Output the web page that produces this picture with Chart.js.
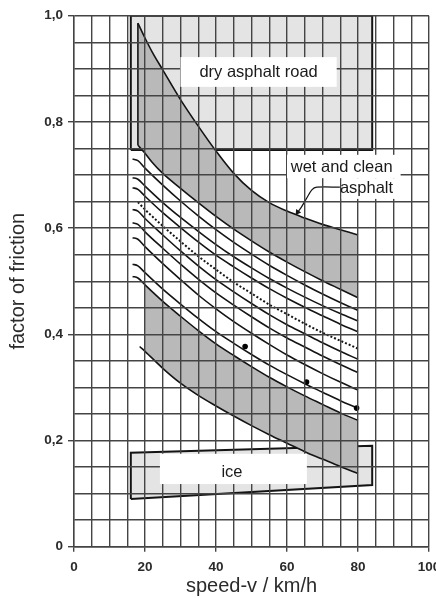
<!DOCTYPE html>
<html>
<head>
<meta charset="utf-8">
<script src="https://cdn.jsdelivr.net/npm/chart.js@4/dist/chart.umd.min.js"></script>
<style>
  html, body { margin: 0; padding: 0; background: #fff; }
  canvas { display: block; }
</style>
</head>
<body>
<canvas id="c" width="436" height="598"></canvas>
<script>
// friction factor vs speed (km/h)
const xTickLabels = ['0', '20', '40', '60', '80', '100'];
const yTickLabels = ['0', '0,2', '0,4', '0,6', '0,8', '1,0'];

// upper limit of wet and clean asphalt
const upperX = [18, 20, 22, 25, 30, 35, 40, 45, 50, 55, 60, 65, 70, 75, 80];
const upperY = [0.986, 0.958, 0.932, 0.898, 0.842, 0.792, 0.745, 0.703, 0.671, 0.648, 0.632, 0.619, 0.607, 0.597, 0.587];
// first curve of the family (lower edge of the upper grey band)
const bandTopX = [18, 20, 22, 25, 30, 35, 40, 45, 50, 55, 60, 65, 70, 75, 80];
const bandTopY = [0.756, 0.741, 0.724, 0.703, 0.675, 0.648, 0.622, 0.598, 0.576, 0.555, 0.536, 0.518, 0.501, 0.485, 0.469];
const leftEdgeX = [18, 18];
const leftEdgeY = [0.756, 0.986];

// family of measured curves
const famX = [16.5, 18, 20, 25, 30, 35, 40, 45, 50, 55, 60, 65, 70, 75, 80];
const curve2 = [0.730, 0.727, 0.713, 0.681, 0.651, 0.623, 0.597, 0.573, 0.551, 0.530, 0.511, 0.493, 0.476, 0.460, 0.445];
const curve3 = [0.695, 0.692, 0.679, 0.648, 0.620, 0.594, 0.569, 0.546, 0.525, 0.505, 0.487, 0.470, 0.454, 0.439, 0.425];
const curve4 = [0.676, 0.673, 0.660, 0.629, 0.601, 0.574, 0.549, 0.527, 0.506, 0.486, 0.468, 0.451, 0.435, 0.419, 0.405];
const curve5 = [0.635, 0.632, 0.618, 0.587, 0.557, 0.529, 0.503, 0.480, 0.458, 0.437, 0.418, 0.401, 0.384, 0.368, 0.353];
const curve6 = [0.610, 0.607, 0.593, 0.562, 0.532, 0.504, 0.478, 0.455, 0.433, 0.412, 0.393, 0.376, 0.359, 0.343, 0.328];
const curve7 = [0.582, 0.579, 0.565, 0.533, 0.503, 0.474, 0.448, 0.424, 0.402, 0.381, 0.361, 0.343, 0.326, 0.310, 0.295];
const curve8 = [0.532, 0.529, 0.516, 0.485, 0.457, 0.430, 0.405, 0.383, 0.362, 0.342, 0.324, 0.307, 0.291, 0.275, 0.261];
const curve9 = [0.509, 0.506, 0.493, 0.462, 0.434, 0.407, 0.382, 0.360, 0.339, 0.319, 0.301, 0.284, 0.268, 0.252, 0.238];
const dottedX = [18, 20, 25, 30, 35, 40, 45, 50, 55, 60, 65, 70, 75, 80];
const dottedY = [0.649, 0.635, 0.604, 0.575, 0.547, 0.522, 0.498, 0.477, 0.456, 0.438, 0.420, 0.403, 0.388, 0.373];

// lower limit
const lowerX = [18.5, 20, 25, 30, 35, 40, 45, 50, 55, 60, 65, 70, 75, 80];
const lowerY = [0.377, 0.368, 0.336, 0.308, 0.285, 0.265, 0.246, 0.228, 0.211, 0.195, 0.179, 0.165, 0.151, 0.138];

// measured points
const dotX = [48.2, 65.5, 79.6];
const dotY = [0.377, 0.310, 0.261];

// regions
const dryBoxX = [16, 16, 84, 84, 16];
const dryBoxY = [0.747, 1.0, 1.0, 0.747, 0.747];
const iceBoxX = [16, 16, 84, 84, 16];
const iceBoxY = [0.090, 0.177, 0.190, 0.116, 0.090];

// leader line of the "wet and clean asphalt" label
const leaderX = [74.9, 68.4, 67.0, 65.5, 64.1, 63.0];
const leaderY = [0.677, 0.677, 0.672, 0.656, 0.640, 0.630];

const pts = (xs, ys) => xs.map((x, i) => ({ x, y: ys[i] }));
const INK = '#141414';
const BAND = '#b9b9b9';
const LIGHT = '#e4e4e4';
const GRID = '#444';
const FONT = '"Liberation Sans", Arial, sans-serif';

function curve(data, extra) {
  return Object.assign({ data, showLine: true, borderColor: INK, borderWidth: 1.6, pointRadius: 0,
    cubicInterpolationMode: 'monotone', fill: false }, extra || {});
}

// white label boxes and texts drawn on top of the grid
const labels = {
  id: 'labels',
  afterDraw(chart) {
    const { ctx } = chart, xs = chart.scales.x, ys = chart.scales.y;
    const px = (v) => xs.getPixelForValue(v), py = (v) => ys.getPixelForValue(v);
    const box = (x0, x1, y0, y1) => {
      ctx.fillRect(px(x0), py(y1), px(x1) - px(x0), py(y0) - py(y1));
    };
    const text = (s, x, y) => ctx.fillText(s, px(x), py(y));
    ctx.save();
    ctx.fillStyle = '#fff';
    box(30, 74, 0.866, 0.922);
    box(24.2, 65.6, 0.118, 0.175);
    box(60, 92, 0.694, 0.738);
    box(75.4, 91, 0.655, 0.694);
    ctx.fillStyle = '#1a1a1a';
    ctx.font = '16.5px ' + FONT;
    ctx.textAlign = 'center';
    ctx.textBaseline = 'middle';
    text('dry asphalt road', 52, 0.893);
    text('ice', 44.5, 0.1407);
    text('wet and clean', 75.4, 0.714);
    text('asphalt', 82.4, 0.6755);
    ctx.restore();
  }
};

const isMajorX = (v) => Math.abs(v / 20 - Math.round(v / 20)) < 1e-6;
const isMajorY = (v) => Math.abs(v / 0.2 - Math.round(v / 0.2)) < 1e-6;

new Chart(document.getElementById('c'), {
  type: 'scatter',
  data: {
    datasets: [
      { data: pts(dotX, dotY), pointStyle: 'circle', pointRadius: 2.8, backgroundColor: '#000', borderColor: '#000', borderWidth: 0 },
      curve(pts(leaderX, leaderY), { borderWidth: 1.2, cubicInterpolationMode: 'default', tension: 0.3,
        pointRadius: [0, 0, 0, 0, 0, 3.5], pointStyle: 'triangle', pointRotation: 214,
        pointBackgroundColor: INK, pointBorderWidth: 0 }),
      curve(pts(upperX, upperY)),
      curve(pts(bandTopX, bandTopY)),
      curve(pts(famX, curve2)),
      curve(pts(famX, curve3)),
      curve(pts(famX, curve4)),
      curve(pts(dottedX, dottedY), { borderDash: [2, 2], borderWidth: 2 }),
      curve(pts(famX, curve5)),
      curve(pts(famX, curve6)),
      curve(pts(famX, curve7)),
      curve(pts(famX, curve8)),
      curve(pts(famX, curve9)),
      curve(pts(lowerX, lowerY)),
      curve(pts(leftEdgeX, leftEdgeY), { cubicInterpolationMode: 'default', tension: 0 }),
      // grey bands (fill only)
      curve(pts(upperX, upperY), { borderWidth: 0, borderColor: 'rgba(0,0,0,0)', backgroundColor: BAND, fill: 3 }),
      curve(pts(lowerX, lowerY).filter((p) => p.x >= 20), { borderWidth: 0, borderColor: 'rgba(0,0,0,0)', backgroundColor: BAND, fill: 12 }),
      // dry asphalt and ice regions
      curve(pts(dryBoxX, dryBoxY), { cubicInterpolationMode: 'default', tension: 0, borderWidth: 2, backgroundColor: LIGHT, fill: 'shape' }),
      curve(pts(iceBoxX, iceBoxY), { cubicInterpolationMode: 'default', tension: 0, borderWidth: 2, backgroundColor: LIGHT, fill: 'shape' })
    ]
  },
  options: {
    responsive: false,
    animation: false,
    devicePixelRatio: 1,
    layout: { padding: { top: 15.7, right: 7, left: 0, bottom: 0 } },
    plugins: { legend: { display: false }, tooltip: { enabled: false } },
    scales: {
      x: {
        type: 'linear', min: 0, max: 100,
        afterFit: (s) => { s.height = 51.3; s.paddingLeft = 0; s.paddingRight = 0; },
        ticks: {
          stepSize: 5, autoSkip: false, maxRotation: 0, padding: 7,
          color: '#2b2b2b', font: { family: FONT, size: 13.5, weight: 'bold' },
          callback: (v) => (isMajorX(v) ? xTickLabels[Math.round(v / 20)] : '')
        },
        grid: { color: GRID, lineWidth: 1.4, tickLength: 5, z: 1,
          tickColor: (c) => (c.tick && isMajorX(c.tick.value) ? GRID : 'rgba(0,0,0,0)') },
        border: { color: GRID, width: 1.4, z: 1 },
        title: { display: true, text: 'speed-v / km/h', color: '#2b2b2b',
          font: { family: FONT, size: 20 }, padding: { top: 0, bottom: 0 } }
      },
      y: {
        type: 'linear', min: 0, max: 1,
        afterFit: (s) => { s.width = 74; s.paddingTop = 0; s.paddingBottom = 0; },
        ticks: {
          stepSize: 0.05, autoSkip: false, padding: 5,
          color: '#2b2b2b', font: { family: FONT, size: 13.5, weight: 'bold' },
          callback: (v) => (isMajorY(v) ? yTickLabels[Math.round(v / 0.2)] : '')
        },
        grid: { color: GRID, lineWidth: 1.4, tickLength: 6, z: 1,
          tickColor: (c) => (c.tick && isMajorY(c.tick.value) ? GRID : 'rgba(0,0,0,0)') },
        border: { color: GRID, width: 1.4, z: 1 },
        title: { display: true, text: 'factor of friction', color: '#2b2b2b',
          font: { family: FONT, size: 20 }, padding: { top: 6, bottom: 0 } }
      }
    }
  },
  plugins: [labels]
});
</script>
</body>
</html>
